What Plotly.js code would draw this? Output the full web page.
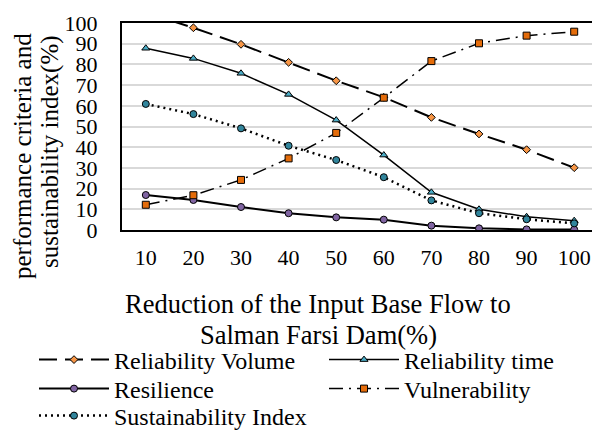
<!DOCTYPE html>
<html>
<head>
<meta charset="utf-8">
<script src="https://cdn.plot.ly/plotly-3.0.1.min.js"></script>
<style>
html,body{margin:0;padding:0;overflow:hidden;background:#fff;}
#chart{width:598px;height:432px;}
</style>
</head>
<body>
<div id="chart"></div>
<script>
var categories = ['10','20','30','40','50','60','70','80','90','100'];
var reliabilityVolume = [105, 97.7, 89.7, 81.0, 72.1, 64.1, 54.4, 46.4, 38.8, 30.1];
var reliabilityTime = [87.8, 82.9, 75.7, 65.5, 53.1, 36.2, 18.2, 10.0, 6.4, 4.5];
var resilience = [16.9, 14.5, 11.1, 8.1, 6.1, 5.0, 2.1, 0.8, 0.3, 0.2];
var vulnerability = [12.2, 16.8, 24.2, 34.6, 46.9, 63.9, 81.6, 90.2, 93.9, 95.8];
var sustainabilityIndex = [60.9, 56.0, 49.1, 40.7, 33.8, 25.5, 14.3, 8.1, 5.2, 3.2];

var FONT = '"Liberation Serif", "Times New Roman", Times, serif';

function tr(name, y, dash, lw, sym, size, fill, legend) {
  return {
    type: 'scatter', mode: 'lines+markers', name: name,
    x: categories, y: y, legend: legend,
    line: {color: '#000', width: lw, dash: dash},
    marker: {symbol: sym, size: size, color: fill, line: {color: '#000', width: 1}},
    cliponaxis: true
  };
}

var data = [
  tr('Reliability Volume', reliabilityVolume, '18px,8px', 2, 'diamond', 6, '#f79646', 'legend'),
  tr('Reliability time', reliabilityTime, 'solid', 1.5, 'triangle-up', 7, '#4bacc6', 'legend2'),
  tr('Resilience', resilience, 'solid', 2, 'circle', 7, '#8064a2', 'legend3'),
  tr('Vulnerability', vulnerability, '14px,6px,2px,6px', 1.5, 'square', 7, '#e46c0a', 'legend4'),
  tr('Sustainability Index', sustainabilityIndex, '2px,4px', 2.5, 'circle', 7, '#31859c', 'legend5')
];

function leg(xpx, ypx) {
  return {
    orientation: 'v', xref: 'container', yref: 'container',
    x: xpx / 598, xanchor: 'left', y: 1 - ypx / 432, yanchor: 'middle',
    font: {family: FONT, size: 24, color: '#000'}, bgcolor: 'rgba(0,0,0,0)',
    itemwidth: 70
  };
}

function ann(text, xpx, ypx, angle, size) {
  return {text: text, xref: 'paper', yref: 'paper',
    x: (xpx - 122) / 476, y: (230 - ypx) / 207, xanchor: 'center', yanchor: 'middle',
    textangle: angle, showarrow: false, font: {family: FONT, size: size, color: '#000'}};
}

var layout = {
  width: 598, height: 432,
  margin: {l: 122, r: 0, t: 23, b: 202, autoexpand: false},
  paper_bgcolor: '#fff', plot_bgcolor: '#fff',
  font: {family: FONT, size: 22, color: '#000'},
  showlegend: true,
  xaxis: {
    type: 'category', range: [-0.5, 9.5],
    showline: true, linecolor: '#000', linewidth: 2, mirror: true,
    showgrid: false, ticks: '', ticklabelstandoff: 7,
    tickfont: {family: FONT, size: 22, color: '#000'}
  },
  yaxis: {
    range: [0, 100], dtick: 10, tick0: 0,
    showline: true, linecolor: '#000', linewidth: 2, mirror: true,
    showgrid: true, gridcolor: '#d9d9d9', gridwidth: 2, zeroline: false,
    ticks: '', ticklabelstandoff: 18,
    tickfont: {family: FONT, size: 22, color: '#000'}
  },
  legend: leg(34, 360),
  legend2: leg(324, 360),
  legend3: leg(34, 389),
  legend4: leg(324, 389),
  legend5: leg(34, 416),
  annotations: [
    ann('Reduction of the Input Base Flow to', 318, 304, 0, 26.5),
    ann('Salman Farsi Dam(%)', 318, 335, 0, 26.5),
    ann('performance criteria and', 22, 156, -90, 25),
    ann('sustainability index(%)', 50, 152, -90, 25)
  ]
};

Plotly.newPlot('chart', data, layout, {displayModeBar: false, staticPlot: true});
</script>
</body>
</html>
